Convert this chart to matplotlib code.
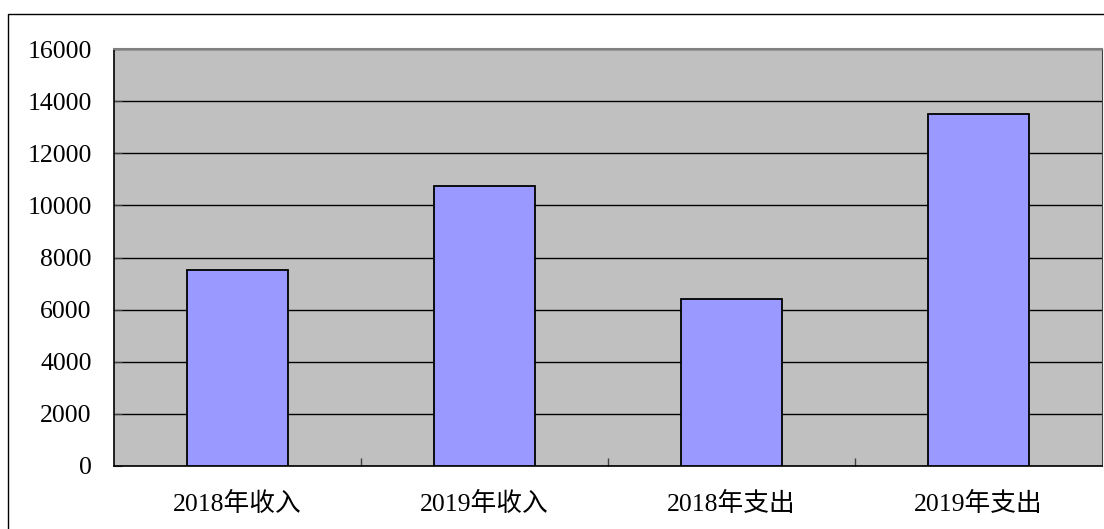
import numpy as np
import matplotlib.pyplot as plt
from matplotlib.patches import Rectangle

categories = ['2018年收入', '2019年收入', '2018年支出', '2019年支出']
values = [7520, 10740, 6400, 13500]
yticks = [0, 2000, 4000, 6000, 8000, 10000, 12000, 14000, 16000]

plt.rcParams['font.family'] = ['Liberation Serif', 'Noto Sans CJK SC']

fig = plt.figure(figsize=(11.04, 5.29), dpi=100)
# outer chart frame (cut off at right and bottom)
fig.patches.append(Rectangle((8 / 1104, -0.1), 1.2, 1 - 14 / 529 + 0.1,
                             transform=fig.transFigure, fill=False,
                             edgecolor='black', linewidth=1.0))

ax = fig.add_axes([114 / 1104, 63 / 529, 988 / 1104, 417 / 529])
ax.set_facecolor('#C0C0C0')

x = np.arange(len(categories))
ax.bar(x, values, width=0.405, color='#9999FF', edgecolor='black',
       linewidth=1.3, zorder=3)

ax.set_xlim(-0.5, len(categories) - 0.5)
ax.set_ylim(0, 16000)
ax.set_yticks(yticks)
ax.set_yticklabels([str(v) for v in yticks])
ax.yaxis.grid(True, color='black', linewidth=1.0, zorder=1)
ax.set_axisbelow(True)

ax.set_xticks(x)
ax.set_xticklabels(categories)
ax.set_xticks(np.arange(0.5, len(categories) - 0.5, 1.0), minor=True)
ax.tick_params(axis='x', which='major', length=0, pad=19, labelsize=18.5)
ax.tick_params(axis='x', which='minor', direction='in', length=6,
               color='#404040', width=1)
ax.tick_params(axis='y', direction='in', length=6, pad=16, labelsize=18.5,
               color='#404040')

for s in ['left', 'bottom']:
    ax.spines[s].set_color('black')
    ax.spines[s].set_linewidth(1.2)
ax.spines['top'].set_color('#808080')
ax.spines['top'].set_linewidth(1.5)
ax.spines['right'].set_color('#404040')

fig.savefig('out.png', dpi=100)
